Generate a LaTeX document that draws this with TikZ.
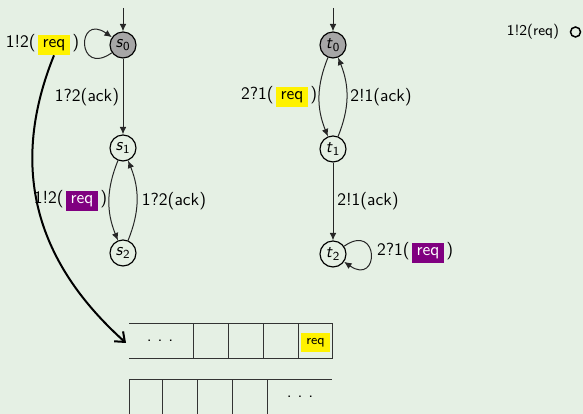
\documentclass[tikz,border=0pt]{standalone}
\usetikzlibrary{arrows.meta}
\definecolor{bg}{RGB}{229,240,228}
\definecolor{hlyellow}{RGB}{255,242,0}
\definecolor{hlpurple}{RGB}{128,0,128}
\definecolor{stategray}{RGB}{166,166,166}
\begin{document}
\begin{tikzpicture}[x=0.6pt,y=-0.6pt,
  font=\sffamily\fontsize{10.5}{12}\selectfont,
  state/.style={circle,draw=black,line width=0.7pt,minimum size=15.6pt,inner sep=0pt},
  initstate/.style={state,fill=stategray},
  trans/.style={draw=black!85,line width=0.6pt,-{Latex[length=4.5pt,width=4pt]}},
  msgbox/.style={inner sep=0pt,minimum width=19.2pt,minimum height=12pt},
  yellowmsg/.style={msgbox,fill=hlyellow},
  purplemsg/.style={msgbox,fill=hlpurple,text=white},
  paren/.style={inner sep=1pt},
  qline/.style={draw=black!80,line width=0.6pt},
  sendarrow/.style={draw=black,line width=1.2pt,-{Straight Barb[length=5pt,width=8pt]}}
]
% canvas
\fill[bg] (0,0) rectangle (583,414);
\useasboundingbox (0,0) rectangle (583,414);

% ---------- process 1 ----------
\node[initstate] (s0) at (123,45) {\textit{s}\textsubscript{0}};
\node[state] (s1) at (123,148) {\textit{s}\textsubscript{1}};
\node[state] (s2) at (123,253) {\textit{s}\textsubscript{2}};
\coordinate (s0in) at (123,8);

\draw[trans] (s0in) -- (s0);
\draw[trans] (s0.215) to[out=215,in=145,distance=26pt] (s0.145);
\draw[trans] (s0) -- (s1);
\draw[trans] (s1) to[bend right=22] (s2);
\draw[trans] (s2) to[bend right=22] (s1);

\node[yellowmsg] (reqA) at (54,45) {req};
\node[paren,anchor=base east] (la) at (reqA.base west) {1!2(};
\node[paren,anchor=base west] (ra) at (reqA.base east) {)};

\node (ackA) at (87,97) {1?2(ack)};

\node[purplemsg] (reqB) at (82,201) {req};
\node[paren,anchor=base east] (lb) at (reqB.base west) {1!2(};
\node[paren,anchor=base west] (rb) at (reqB.base east) {)};

\node (ackB) at (174,201) {1?2(ack)};

% ---------- process 2 ----------
\node[initstate] (t0) at (333,45) {\textit{t}\textsubscript{0}};
\node[state] (t1) at (333,149) {\textit{t}\textsubscript{1}};
\node[state] (t2) at (333,254) {\textit{t}\textsubscript{2}};
\coordinate (t0in) at (333,8);

\draw[trans] (t0in) -- (t0);
\draw[trans] (t0) to[bend right=22] (t1);
\draw[trans] (t1) to[bend right=22] (t0);
\draw[trans] (t1) -- (t2);
\draw[trans] (t2.35) to[out=35,in=-35,distance=26pt] (t2.-35);

\node[yellowmsg] (reqC) at (292,97) {req};
\node[paren,anchor=base east] (lc) at (reqC.base west) {2?1(};
\node[paren,anchor=base west] (rc) at (reqC.base east) {)};

\node (ackC) at (381,97) {2!1(ack)};
\node (ackD) at (368,201) {2!1(ack)};

\node[purplemsg] (reqD) at (428,253) {req};
\node[paren,anchor=base east] (ld) at (reqD.base west) {2?1(};
\node[paren,anchor=base west] (rd) at (reqD.base east) {)};

% ---------- legend ----------
\node[font=\sffamily\fontsize{9}{11}\selectfont] (legend) at (533,32) {1!2(req)};
\node[circle,draw=black,line width=0.9pt,minimum size=6pt,inner sep=0pt] (legdot) at (575.5,32) {};

% ---------- channel 1 -> 2 ----------
\draw[qline] (129,324) -- (332,324) -- (332,359) -- (129,359);
\foreach \x in {193,228,263,298} \draw[qline] (\x,324) -- (\x,359);
\node (dotsA) at (160,341) {.\,\,.\,\,.};
\node[fill=hlyellow,inner sep=0pt,minimum width=17.4pt,minimum height=11.4pt,
      font=\sffamily\fontsize{8}{9}\selectfont] (qreq) at (315.5,342.5) {req};
\coordinate (qin) at (126,343);

% ---------- channel 2 -> 1 ----------
\draw[qline] (129,414) -- (129,380) -- (332,380);
\foreach \x in {162,197,232,267} \draw[qline] (\x,380) -- (\x,414);
\node (dotsB) at (300,397) {.\,\,.\,\,.};

% sending req puts it into the channel
\draw[sendarrow] (reqA.south) .. controls +(248:84pt) and +(138:60pt) .. (qin);
\end{tikzpicture}
\end{document}
